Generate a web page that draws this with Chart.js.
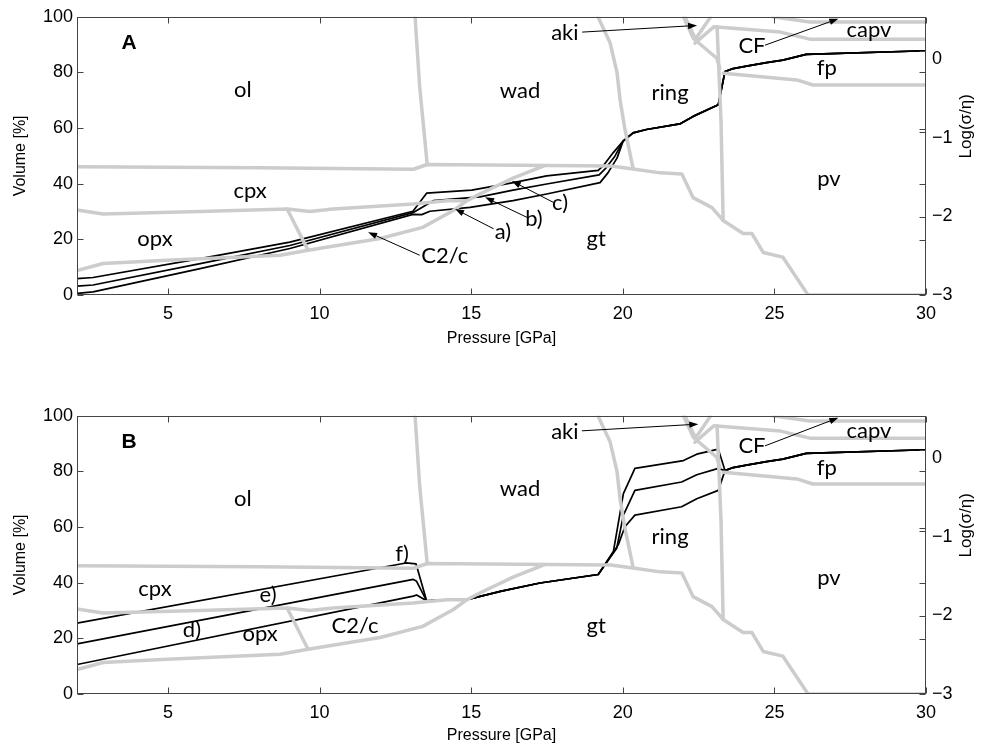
<!DOCTYPE html>
<html>
<head>
<meta charset="utf-8">
<script src="https://cdn.jsdelivr.net/npm/chart.js@4/dist/chart.umd.min.js"></script>
<style>
  body { margin: 0; background: #fff; }
  #chartA { position: absolute; left: 0; top: 0; }
  #chartB { position: absolute; left: 0; top: 399px; }
</style>
</head>
<body>
<canvas id="chartA" width="982" height="372"></canvas>
<canvas id="chartB" width="982" height="350"></canvas>
<script>
// axis ticks
const xTicks = [5, 10, 15, 20, 25, 30];
const yTicks = [0, 20, 40, 60, 80, 100];
const logTicks = [0, -1, -2, -3];
const logTickMarks = [0.11, -0.16, -0.88, -0.92, -1.59, -2, -2.3, -3];

// grey phase boundaries [pressure GPa, volume %] (same in both panels)
const olBase = [[2, 46.1], [8, 45.7], [13.1, 45.2], [13.55, 46.9], [19.6, 46.4], [20.34, 45.3], [21.23, 43.9], [21.95, 43.5], [22.32, 35.0], [22.94, 31.4], [23.31, 26.8], [23.97, 22.1], [24.26, 22.1], [24.63, 15.3], [25.28, 13.6], [26.11, 0], [30, 0]];
const olWad = [[13.15, 100], [13.3, 75], [13.55, 46.9]];
const wadRing = [[19.18, 100], [19.58, 90.7], [19.81, 79.9], [19.91, 70.2], [20.07, 59.6], [20.34, 45.5]];
const ringPv = [[23.11, 96.3], [23.24, 62.4], [23.31, 26.8]];
const cpxOpx = [[2, 30.6], [2.86, 29.1], [6.06, 30.0], [8.93, 30.9], [9.68, 30.0], [10.44, 30.9], [13.08, 32.7], [14.2, 33.9], [14.86, 33.9]];
const gtTop = [[2, 8.8], [2.86, 11.3], [4.97, 12.5], [8.7, 14.3], [9.62, 16.1], [12.0, 20.3], [13.4, 24.3], [14.4, 30.3], [14.86, 33.9], [15.3, 36.4], [16.4, 42.1], [17.4, 46.4]];
const opxC2c = [[8.93, 30.9], [9.62, 16.1]];
const ringTop = [[22.0, 100], [22.33, 92.2], [23.1, 85.1], [23.2, 81.5]];
const akiV = [[22.05, 100], [22.4, 92.0], [22.9, 100]];
const cfTop = [[22.38, 90.5], [23.0, 96.4], [25.2, 94.5], [26.2, 91.9], [30, 91.9]];
const capvTop = [[24.95, 100], [26.17, 98.1], [30, 98.1]];
const fpBottom = [[23.31, 79.7], [25.74, 77.3], [26.27, 75.5], [30, 75.5]];

// panel A curves a), b), c)
const curveA = [[2, 0.6], [2.53, 1.1], [6.06, 9.5], [9.02, 16.7], [13.08, 29.0], [13.37, 28.9], [13.64, 30.1], [14.96, 31.5], [16.38, 33.9], [17.49, 36.3], [19.25, 40.4], [19.51, 43.9], [19.81, 49.2], [20.01, 55.3]];
const curveB = [[2, 3.2], [2.53, 3.6], [6.06, 11.3], [9.02, 17.8], [13.08, 29.6], [13.75, 33.9], [15.29, 35.3], [16.38, 37.7], [17.49, 39.9], [19.22, 43.2], [19.45, 45.7], [19.74, 49.9], [20.01, 55.3]];
const curveC = [[2, 5.9], [2.53, 6.3], [6.06, 13.1], [9.02, 19.0], [13.08, 30.1], [13.53, 36.6], [15.02, 37.7], [16.39, 40.4], [17.49, 42.8], [19.19, 44.8], [19.35, 46.4], [19.68, 51.1], [20.01, 55.3]];
const ringA = [[20.01, 55.3], [20.34, 58.3], [20.78, 59.5], [21.88, 61.5], [22.32, 64.2], [23.15, 68.4], [23.37, 80.3]];
const topP = [[23.37, 80.3], [23.64, 81.4], [24.08, 82.3], [24.74, 83.5], [25.28, 84.4], [26.05, 86.5], [30, 87.8]];

// panel B curves d), e), f)
const curveD = [[2, 10.6], [13.09, 35.2], [13.2, 35.6], [13.53, 33.5]];
const curveE = [[2, 18.0], [13.09, 41.2], [13.2, 40.5], [13.53, 33.5]];
const curveF = [[2, 25.5], [12.85, 47.1], [13.18, 46.8], [13.53, 33.5]];
const midB = [[13.53, 33.5], [14.96, 34.2], [16.0, 37.0], [17.27, 39.9], [19.19, 42.95]];
const riseD = [[19.19, 42.95], [19.85, 53.6], [20.07, 60.1], [20.40, 64.3], [21.94, 67.3], [22.44, 70.2], [23.15, 73.2], [23.37, 80.3]];
const riseE = [[19.19, 42.95], [19.80, 52.4], [20.02, 64.3], [20.40, 73.2], [21.94, 76.2], [22.44, 78.8], [23.15, 81.1], [23.37, 80.3]];
const riseF = [[19.19, 42.95], [19.69, 51.2], [20.02, 72.0], [20.40, 81.1], [22.0, 83.9], [22.44, 86.2], [23.15, 88.0], [23.37, 80.3]];

// text annotations [text, P, V]
const labelsA = [['ol', 7.47, 73.9], ['wad', 16.61, 73.5], ['ring', 21.56, 72.8], ['cpx', 7.71, 37.5], ['opx', 4.57, 20.3],
  ['gt', 19.12, 20.3], ['pv', 26.8, 41.7], ['fp', 26.73, 81.7], ['capv', 28.12, 95.3], ['CF', 24.26, 89.5],
  ['aki', 18.09, 94.3], ['C2/c', 14.13, 13.9], ['a)', 16.05, 22.5], ['b)', 17.07, 27.5], ['c)', 17.93, 33.2]];
const labelsB = [['ol', 7.47, 70.1], ['wad', 16.61, 73.7], ['ring', 21.56, 56.6], ['cpx', 4.57, 37.8], ['opx', 8.04, 21.7],
  ['C2/c', 11.17, 24.4], ['gt', 19.12, 24.6], ['pv', 26.8, 41.6], ['fp', 26.73, 81.1], ['capv', 28.12, 94.7], ['CF', 24.26, 89.3],
  ['aki', 18.09, 94.3], ['d)', 5.79, 22.9], ['e)', 8.30, 35.6], ['f)', 12.72, 50.5]];
// arrows [fromP, fromV, toP, toV]
const arrowsA = [[18.66, 94.5, 22.45, 96.9], [24.69, 89.8, 27.11, 99.3], [13.3, 14.3, 11.6, 22.6],
  [15.74, 23.8, 14.47, 30.9], [16.9, 27.6, 15.46, 35.1], [17.71, 33.3, 16.34, 41.0]];
const arrowsB = [[18.65, 94.6, 22.49, 97.0], [24.69, 89.2, 27.11, 99.3]];

const phaseLines = [olBase, olWad, wadRing, ringPv, cpxOpx, gtTop, opxC2c, ringTop, akiV, cfTop, capvTop, fpBottom];

const toXY = pts => pts.map(([x, y]) => ({ x, y }));
const tickFont = { family: '"Liberation Sans", Arial, sans-serif', size: 18 };
const titleFont = { family: '"Liberation Sans", Arial, sans-serif', size: 16 };

function drawArrow(ctx, x0, y0, x1, y1) {
  const ang = Math.atan2(y1 - y0, x1 - x0);
  ctx.beginPath();
  ctx.moveTo(x0, y0);
  ctx.lineTo(x1 - 6 * Math.cos(ang), y1 - 6 * Math.sin(ang));
  ctx.stroke();
  ctx.beginPath();
  ctx.moveTo(x1, y1);
  ctx.lineTo(x1 - 9 * Math.cos(ang) + 3.2 * Math.sin(ang), y1 - 9 * Math.sin(ang) - 3.2 * Math.cos(ang));
  ctx.lineTo(x1 - 9 * Math.cos(ang) - 3.2 * Math.sin(ang), y1 - 9 * Math.sin(ang) + 3.2 * Math.cos(ang));
  ctx.closePath();
  ctx.fill();
}

const decor = {
  id: 'decor',
  afterDatasetsDraw(chart) {
    const { ctx, chartArea: a, scales: { x, y, y1 } } = chart;
    const extra = chart.options.plugins.decor;
    ctx.save();
    // text labels
    ctx.fillStyle = '#000';
    ctx.textAlign = 'center';
    ctx.textBaseline = 'middle';
    ctx.font = '22px Lato, "Open Sans", sans-serif';
    extra.labels.forEach(([t, p, v]) => ctx.fillText(t, x.getPixelForValue(p), y.getPixelForValue(v)));
    ctx.font = 'bold 21px "Liberation Sans", Arial, sans-serif';
    ctx.fillText(extra.letter, x.getPixelForValue(3.72), y.getPixelForValue(90.6));
    // arrows
    ctx.strokeStyle = '#000';
    ctx.lineWidth = 1;
    extra.arrows.forEach(([p0, v0, p1, v1]) =>
      drawArrow(ctx, x.getPixelForValue(p0), y.getPixelForValue(v0), x.getPixelForValue(p1), y.getPixelForValue(v1)));
    // frame and inward ticks
    const L = Math.round(a.left) + 0.5, R = Math.round(a.right) - 0.5;
    const T = Math.round(a.top) + 0.5, B = Math.round(a.bottom) - 0.5;
    ctx.strokeStyle = '#444';
    ctx.lineWidth = 1;
    ctx.strokeRect(L, T, R - L, B - T);
    ctx.beginPath();
    xTicks.forEach(v => {
      const px = Math.round(x.getPixelForValue(v)) + 0.5;
      ctx.moveTo(px, B); ctx.lineTo(px, B - 6);
      ctx.moveTo(px, T); ctx.lineTo(px, T + 6);
    });
    yTicks.forEach(v => {
      const py = Math.round(y.getPixelForValue(v)) + 0.5;
      ctx.moveTo(L, py); ctx.lineTo(L + 6, py);
    });
    logTickMarks.forEach(v => {
      const py = Math.round(y1.getPixelForValue(v)) + 0.5;
      ctx.moveTo(R, py); ctx.lineTo(R - 6, py);
    });
    ctx.stroke();
    // right axis title, reading upwards
    ctx.translate(966, y1.getPixelForValue(-0.85));
    ctx.rotate(-Math.PI / 2);
    ctx.font = '17px "Liberation Sans", Arial, sans-serif';
    ctx.fillText('Log(\u03c3/\u03b7)', 0, 0);
    ctx.restore();
  }
};

function makeChart(id, curves, labels, arrows, letter, axisH, titlePad) {
  const datasets = [];
  phaseLines.forEach(g => datasets.push({ data: toXY(g), borderColor: '#cccccc', borderWidth: 3.5, showLine: true }));
  curves.forEach(c => datasets.push({ data: toXY(c), borderColor: '#000000', borderWidth: 1.7, showLine: true }));

  return new Chart(document.getElementById(id), {
    type: 'scatter',
    data: { datasets },
    options: {
      responsive: false,
      animation: false,
      events: [],
      layout: { padding: { top: 15, left: 0, right: 0, bottom: 0 } },
      elements: { point: { radius: 0 }, line: { tension: 0, borderJoinStyle: 'round', borderCapStyle: 'round' } },
      plugins: {
        legend: { display: false },
        tooltip: { enabled: false },
        decor: { labels, arrows, letter }
      },
      scales: {
        x: {
          type: 'linear', min: 2, max: 30,
          afterBuildTicks: s => { s.ticks = xTicks.map(v => ({ value: v })); },
          afterFit: s => { s.height = axisH; },
          grid: { display: false, drawTicks: false },
          border: { display: false },
          ticks: { font: tickFont, color: '#000', padding: 8, maxRotation: 0, autoSkip: false },
          title: { display: true, text: 'Pressure [GPa]', font: titleFont, color: '#000', padding: { top: 0, bottom: titlePad } }
        },
        y: {
          type: 'linear', position: 'left', min: 0, max: 100,
          afterBuildTicks: s => { s.ticks = yTicks.map(v => ({ value: v })); },
          afterFit: s => { s.width = 77; },
          grid: { display: false, drawTicks: false },
          border: { display: false },
          ticks: { font: tickFont, color: '#000', padding: 4, autoSkip: false },
          title: { display: true, text: 'Volume [%]', font: titleFont, color: '#000', padding: { top: 11, bottom: 0 } }
        },
        y1: {
          type: 'linear', position: 'right', min: -3, max: 0.544,
          afterBuildTicks: s => { s.ticks = logTicks.map(v => ({ value: v })); },
          afterFit: s => { s.width = 56; },
          grid: { display: false, drawTicks: false },
          border: { display: false },
          ticks: { font: tickFont, color: '#000', padding: 6, autoSkip: false,
            callback: v => (v === 0 ? '0' : '\u2212' + Math.abs(v)) }
        }
      }
    },
    plugins: [decor]
  });
}

makeChart('chartA',
  [curveA.concat(ringA, topP), curveB.concat(ringA, topP), curveC.concat(ringA, topP)],
  labelsA, arrowsA, 'A', 77, 24);
makeChart('chartB',
  [curveD.concat(midB, riseD, topP), curveE.concat(midB, riseE, topP), curveF.concat(midB, riseF, topP)],
  labelsB, arrowsB, 'B', 55, 4);
</script>
</body>
</html>
